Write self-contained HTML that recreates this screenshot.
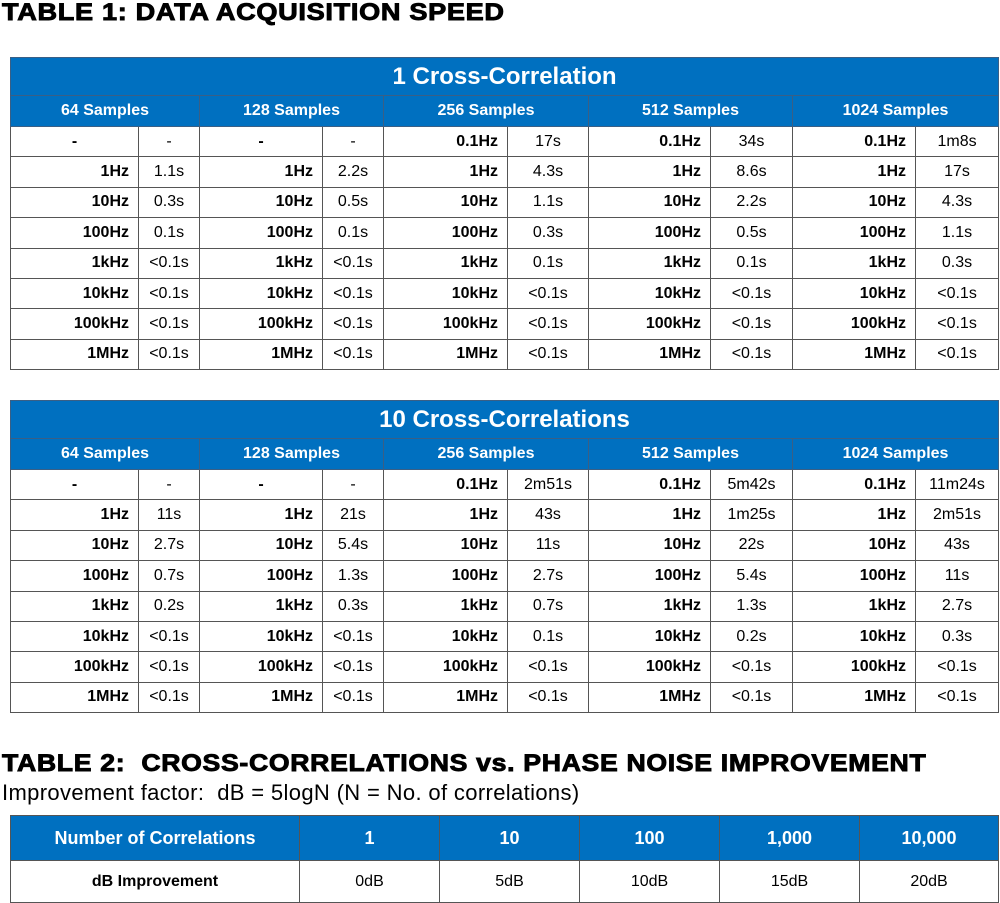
<!DOCTYPE html>
<html><head><meta charset="utf-8"><style>
body{margin:0;width:1000px;height:903px;background:#fff;position:relative;overflow:hidden;font-family:"Liberation Sans",Arial,sans-serif;}
.h{position:absolute;left:2px;font-weight:900;font-size:24px;letter-spacing:0.6px;color:#000;white-space:nowrap;-webkit-text-stroke:0.9px #000;transform:scaleX(1.13);transform-origin:0 0;}
table{position:absolute;left:10px;border-collapse:collapse;table-layout:fixed;width:988px;}
td{border:1px solid #555;padding:0;font-family:"Liberation Sans Narrow","Liberation Sans",sans-serif;font-size:16px;color:#000;height:29.4px;text-align:center;}
td.l{text-align:right;padding-right:9px;font-weight:bold;}
tr.t td{background:#0070c0;color:#fff;font-family:"Liberation Sans",sans-serif;font-weight:bold;font-size:24px;height:37px;border-color:#3a5f85;}
tr.s td{background:#0070c0;color:#fff;font-weight:bold;font-size:16px;height:30px;border-color:#3a5f85;}
#t3 td{font-family:"Liberation Sans",sans-serif;}
#t3 tr.hd td{background:#0070c0;color:#fff;font-weight:bold;font-size:18px;height:44px;border-color:#555;}
#t3 tr.r td{height:41px;font-size:16px;}
</style></head><body>
<div class="h" style="top:-1px">TABLE 1: DATA ACQUISITION SPEED</div>

<table style="top:57px">
<colgroup><col style="width:128px"><col style="width:61px"><col style="width:123px"><col style="width:61px"><col style="width:124px"><col style="width:81px"><col style="width:122px"><col style="width:82px"><col style="width:123px"><col style="width:83px"></colgroup>
<tr class="t"><td colspan="10">1 Cross-Correlation</td></tr>
<tr class="s"><td colspan="2">64 Samples</td><td colspan="2">128 Samples</td><td colspan="2">256 Samples</td><td colspan="2">512 Samples</td><td colspan="2">1024 Samples</td></tr>
<tr><td class="l" style="text-align:center;padding:0 0 0 0">-</td><td>-</td><td class="l" style="text-align:center;padding:0">-</td><td>-</td><td class="l">0.1Hz</td><td>17s</td><td class="l">0.1Hz</td><td>34s</td><td class="l">0.1Hz</td><td>1m8s</td></tr>
<tr><td class="l">1Hz</td><td>1.1s</td><td class="l">1Hz</td><td>2.2s</td><td class="l">1Hz</td><td>4.3s</td><td class="l">1Hz</td><td>8.6s</td><td class="l">1Hz</td><td>17s</td></tr>
<tr><td class="l">10Hz</td><td>0.3s</td><td class="l">10Hz</td><td>0.5s</td><td class="l">10Hz</td><td>1.1s</td><td class="l">10Hz</td><td>2.2s</td><td class="l">10Hz</td><td>4.3s</td></tr>
<tr><td class="l">100Hz</td><td>0.1s</td><td class="l">100Hz</td><td>0.1s</td><td class="l">100Hz</td><td>0.3s</td><td class="l">100Hz</td><td>0.5s</td><td class="l">100Hz</td><td>1.1s</td></tr>
<tr><td class="l">1kHz</td><td>&lt;0.1s</td><td class="l">1kHz</td><td>&lt;0.1s</td><td class="l">1kHz</td><td>0.1s</td><td class="l">1kHz</td><td>0.1s</td><td class="l">1kHz</td><td>0.3s</td></tr>
<tr><td class="l">10kHz</td><td>&lt;0.1s</td><td class="l">10kHz</td><td>&lt;0.1s</td><td class="l">10kHz</td><td>&lt;0.1s</td><td class="l">10kHz</td><td>&lt;0.1s</td><td class="l">10kHz</td><td>&lt;0.1s</td></tr>
<tr><td class="l">100kHz</td><td>&lt;0.1s</td><td class="l">100kHz</td><td>&lt;0.1s</td><td class="l">100kHz</td><td>&lt;0.1s</td><td class="l">100kHz</td><td>&lt;0.1s</td><td class="l">100kHz</td><td>&lt;0.1s</td></tr>
<tr><td class="l">1MHz</td><td>&lt;0.1s</td><td class="l">1MHz</td><td>&lt;0.1s</td><td class="l">1MHz</td><td>&lt;0.1s</td><td class="l">1MHz</td><td>&lt;0.1s</td><td class="l">1MHz</td><td>&lt;0.1s</td></tr>
</table>

<table style="top:400px">
<colgroup><col style="width:128px"><col style="width:61px"><col style="width:123px"><col style="width:61px"><col style="width:124px"><col style="width:81px"><col style="width:122px"><col style="width:82px"><col style="width:123px"><col style="width:83px"></colgroup>
<tr class="t"><td colspan="10">10 Cross-Correlations</td></tr>
<tr class="s"><td colspan="2">64 Samples</td><td colspan="2">128 Samples</td><td colspan="2">256 Samples</td><td colspan="2">512 Samples</td><td colspan="2">1024 Samples</td></tr>
<tr><td class="l" style="text-align:center;padding:0">-</td><td>-</td><td class="l" style="text-align:center;padding:0">-</td><td>-</td><td class="l">0.1Hz</td><td>2m51s</td><td class="l">0.1Hz</td><td>5m42s</td><td class="l">0.1Hz</td><td>11m24s</td></tr>
<tr><td class="l">1Hz</td><td>11s</td><td class="l">1Hz</td><td>21s</td><td class="l">1Hz</td><td>43s</td><td class="l">1Hz</td><td>1m25s</td><td class="l">1Hz</td><td>2m51s</td></tr>
<tr><td class="l">10Hz</td><td>2.7s</td><td class="l">10Hz</td><td>5.4s</td><td class="l">10Hz</td><td>11s</td><td class="l">10Hz</td><td>22s</td><td class="l">10Hz</td><td>43s</td></tr>
<tr><td class="l">100Hz</td><td>0.7s</td><td class="l">100Hz</td><td>1.3s</td><td class="l">100Hz</td><td>2.7s</td><td class="l">100Hz</td><td>5.4s</td><td class="l">100Hz</td><td>11s</td></tr>
<tr><td class="l">1kHz</td><td>0.2s</td><td class="l">1kHz</td><td>0.3s</td><td class="l">1kHz</td><td>0.7s</td><td class="l">1kHz</td><td>1.3s</td><td class="l">1kHz</td><td>2.7s</td></tr>
<tr><td class="l">10kHz</td><td>&lt;0.1s</td><td class="l">10kHz</td><td>&lt;0.1s</td><td class="l">10kHz</td><td>0.1s</td><td class="l">10kHz</td><td>0.2s</td><td class="l">10kHz</td><td>0.3s</td></tr>
<tr><td class="l">100kHz</td><td>&lt;0.1s</td><td class="l">100kHz</td><td>&lt;0.1s</td><td class="l">100kHz</td><td>&lt;0.1s</td><td class="l">100kHz</td><td>&lt;0.1s</td><td class="l">100kHz</td><td>&lt;0.1s</td></tr>
<tr><td class="l">1MHz</td><td>&lt;0.1s</td><td class="l">1MHz</td><td>&lt;0.1s</td><td class="l">1MHz</td><td>&lt;0.1s</td><td class="l">1MHz</td><td>&lt;0.1s</td><td class="l">1MHz</td><td>&lt;0.1s</td></tr>
</table>

<div class="h" style="top:750px;transform:scaleX(1.11)">TABLE 2:&nbsp; CROSS-CORRELATIONS vs. PHASE NOISE IMPROVEMENT</div>
<div style="position:absolute;left:2px;top:780px;font-size:22px;letter-spacing:0.35px;white-space:nowrap">Improvement factor:&nbsp; dB = 5logN (N = No. of correlations)</div>

<table id="t3" style="top:815px">
<colgroup><col style="width:289px"><col style="width:140px"><col style="width:140px"><col style="width:140px"><col style="width:140px"><col style="width:139px"></colgroup>
<tr class="hd"><td>Number of Correlations</td><td>1</td><td>10</td><td>100</td><td>1,000</td><td>10,000</td></tr>
<tr class="r"><td style="font-weight:bold;font-size:16px">dB Improvement</td><td>0dB</td><td>5dB</td><td>10dB</td><td>15dB</td><td>20dB</td></tr>
</table>
</body></html>
